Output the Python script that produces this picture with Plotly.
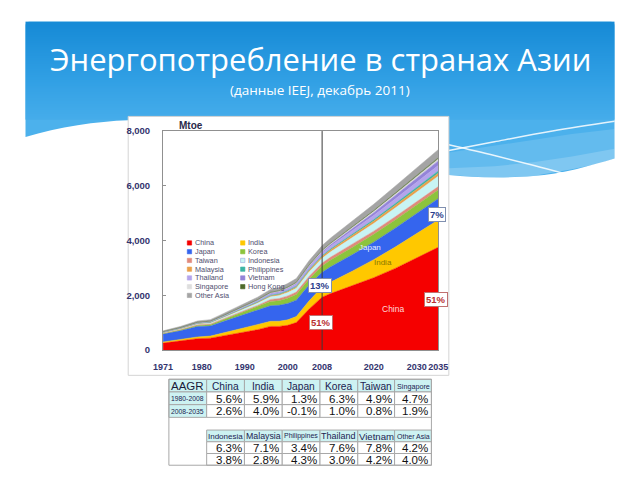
import plotly.graph_objects as go

# ---------------- data ----------------
years = [1971, 1975, 1979, 1982, 1985, 1990, 1993, 1996, 1998, 2000, 2002, 2005, 2008,
         2010, 2015, 2020, 2025, 2030, 2035]
china = [250, 320, 410, 430, 520, 650, 740, 860, 860, 900, 1000, 1500, 1930,
         2060, 2350, 2640, 2980, 3360, 3750]
india = [40, 50, 65, 75, 100, 150, 165, 185, 190, 200, 220, 300, 370,
         420, 530, 660, 780, 890, 1000]
japan = [290, 330, 380, 370, 420, 500, 540, 570, 580, 600, 600, 580, 540,
         560, 600, 640, 690, 740, 780]
korea = [20, 30, 42, 48, 60, 95, 125, 160, 170, 190, 205, 215, 230,
         245, 265, 285, 300, 310, 320]
taiwan = [12, 18, 26, 28, 35, 48, 58, 70, 78, 85, 90, 100, 105,
          108, 112, 115, 117, 119, 120]
indonesia = [20, 25, 33, 40, 50, 70, 85, 100, 110, 125, 140, 160, 175,
             195, 240, 280, 320, 350, 380]
malaysia = [5, 7, 9, 12, 15, 20, 26, 33, 38, 45, 50, 60, 70,
            75, 85, 92, 100, 105, 110]
philippines = [10, 12, 14, 14, 14, 16, 19, 24, 26, 27, 27, 28, 30,
               32, 42, 52, 62, 72, 80]
thailand = [8, 10, 12, 15, 18, 30, 40, 55, 58, 65, 72, 88, 100,
            108, 130, 150, 170, 185, 200]
vietnam = [5, 6, 6, 6, 7, 9, 11, 15, 18, 20, 24, 32, 42,
           50, 75, 100, 125, 150, 170]
singapore = [3, 4, 6, 7, 9, 13, 17, 21, 23, 25, 26, 30, 33,
             36, 45, 52, 58, 64, 70]
hongkong = [4, 5, 6, 7, 9, 11, 12, 14, 15, 16, 17, 18, 19,
            20, 24, 28, 32, 36, 40]
other_asia = [30, 40, 48, 55, 70, 80, 90, 105, 115, 130, 140, 160, 170,
              185, 210, 230, 250, 275, 300]

series_names = ["China", "India", "Japan", "Korea", "Taiwan", "Indonesia", "Malaysia",
                "Philippines", "Thailand", "Vietnam", "Singapore", "Hong Kong", "Other Asia"]
series_values = [china, india, japan, korea, taiwan, indonesia, malaysia,
                 philippines, thailand, vietnam, singapore, hongkong, other_asia]
series_colors = ["#f50000", "#ffc800", "#3565ee", "#8cc43c", "#e08a7c", "#c8f4f4", "#eaa04a",
                 "#3cb4a4", "#b4a4ec", "#9484d8", "#dedede", "#4e6a2a", "#a4a4a4"]

legend_col1 = ["China", "Japan", "Taiwan", "Malaysia", "Thailand", "Singapore", "Other Asia"]
legend_col2 = ["India", "Korea", "Indonesia", "Philippines", "Vietnam", "Hong Kong"]

x_ticks = [1971, 1980, 1990, 2000, 2008, 2020, 2030, 2035]
y_ticks = [0, 2000, 4000, 6000, 8000]
y_ticktext = ["0", "2,000", "4,000", "6,000", "8,000"]

tbl_corner = "AAGR"
tbl_periods = ["1980-2008", "2008-2035"]
tbl_top_cols = ["China", "India", "Japan", "Korea", "Taiwan", "Singapore"]
tbl_top_r1 = ["5.6%", "5.9%", "1.3%", "6.3%", "4.9%", "4.7%"]
tbl_top_r2 = ["2.6%", "4.0%", "-0.1%", "1.0%", "0.8%", "1.9%"]
tbl_bot_cols = ["Indonesia", "Malaysia", "Philippines", "Thailand", "Vietnam", "Other Asia"]
tbl_bot_r1 = ["6.3%", "7.1%", "3.4%", "7.6%", "7.8%", "4.2%"]
tbl_bot_r2 = ["3.8%", "2.8%", "4.3%", "3.0%", "4.2%", "4.0%"]

title_text = "Энергопотребление в странах Азии"
subtitle_text = "(данные IEEJ, декабрь 2011)"

# ---------------- figure ----------------
fig = go.Figure()

# background subplot (pixel coordinates)
# vertical gradient for the upper part of the header band
grad_edges = list(range(16, 120, 4))
grad_centers = [(a + b) / 2 for a, b in zip(grad_edges[:-1], grad_edges[1:])]
fig.add_trace(go.Heatmap(
    x=[16, 624], y=grad_edges, z=[[c] for c in grad_centers],
    zmin=16, zmax=120, zsmooth="best", showscale=False, hoverinfo="skip",
    colorscale=[[0, "#168ad6"], [0.55, "#309fe4"], [1, "#48aeeb"]],
    xaxis="x", yaxis="y"))
# lighter wave bands on the right
fig.add_trace(go.Scatter(
    x=[453, 500, 540, 580, 624, 624, 610, 580, 540, 500, 453],
    y=[150, 143, 137, 131, 126, 156, 161, 167, 174, 176, 173],
    fill="toself", mode="lines", line=dict(width=0),
    fillcolor="rgba(255,255,255,0.13)", hoverinfo="skip", xaxis="x", yaxis="y"))
fig.add_trace(go.Scatter(
    x=[453, 500, 540, 580, 624, 624, 610, 580, 540, 500, 453],
    y=[166, 164, 160, 154, 146, 156, 161, 167, 174, 176, 173],
    fill="toself", mode="lines", line=dict(width=0),
    fillcolor="rgba(255,255,255,0.18)", hoverinfo="skip", xaxis="x", yaxis="y"))
fig.add_trace(go.Scatter(
    x=[453, 500, 560, 624], y=[148, 139, 128, 118], mode="lines",
    line=dict(color="rgba(255,255,255,0.85)", width=1.5, shape="spline"),
    hoverinfo="skip", xaxis="x", yaxis="y"))
fig.add_trace(go.Scatter(
    x=[453, 500, 540, 574], y=[142, 153, 163, 172], mode="lines",
    line=dict(color="rgba(255,255,255,0.85)", width=1.5, shape="spline"),
    hoverinfo="skip", xaxis="x", yaxis="y"))
# white chart panel
fig.add_trace(go.Scatter(
    x=[122, 453, 453, 122, 122], y=[113, 113, 378, 378, 113], fill="toself",
    mode="lines", line=dict(color="#d4d4d4", width=1), fillcolor="white",
    hoverinfo="skip", xaxis="x", yaxis="y"))

# stacked areas
for name, vals, col in zip(series_names, series_values, series_colors):
    fig.add_trace(go.Scatter(
        x=years, y=vals, name=name, stackgroup="one", mode="lines",
        line=dict(width=0.5, color=col), fillcolor=col,
        xaxis="x2", yaxis="y2"))

# ---------------- layout ----------------
def px(x):
    return x / 640.0

def py(y):
    return 1 - y / 480.0

navy = "#34346e"
fig.update_layout(
    width=640, height=480, margin=dict(l=0, r=0, t=0, b=0),
    paper_bgcolor="white", plot_bgcolor="rgba(0,0,0,0)", showlegend=False,
    xaxis=dict(domain=[0, 1], range=[0, 640], visible=False, fixedrange=True),
    yaxis=dict(domain=[0, 1], range=[480, 0], visible=False, fixedrange=True),
    xaxis2=dict(domain=[px(158), px(442)], range=[1971, 2035], anchor="y2",
                tickmode="array", tickvals=x_ticks, ticktext=[str(t) for t in x_ticks],
                tickangle=0, showgrid=False, zeroline=False, ticks="",
                showline=True, linecolor="#909090", linewidth=1, mirror=True,
                ticklabelstandoff=8,
                tickfont=dict(family="Arial, Liberation Sans", size=9, color=navy,
                              weight="bold")),
    yaxis2=dict(domain=[py(352), py(128)], range=[0, 8000], anchor="x2",
                tickmode="array", tickvals=y_ticks, ticktext=y_ticktext,
                showgrid=False, zeroline=False, ticks="inside", ticklen=3,
                tickcolor="#909090", showline=True, linecolor="#909090", linewidth=1,
                mirror=True, ticklabelstandoff=10,
                tickfont=dict(family="Arial, Liberation Sans", size=9.5, color=navy,
                              weight="bold")),
)

shapes = []
annotations = []

# header base (below the gradient heatmap), rounded top corners, wavy bottom
hdr_path = ("M 16 134 L 16 20 Q 16 16 20 16 L 620 16 Q 624 16 624 20 L 624 156 "
            "C 600 163 570 172 540 174 C 515 176 480 176 453 173 L 300 150 L 122 117 "
            "C 90 118 50 124 16 134 Z")
shapes.append(dict(type="path", xref="x", yref="y", path=hdr_path,
                   fillcolor="#4cb1ec", line=dict(width=0), layer="below"))

# 2008 divider
shapes.append(dict(type="line", xref="x2", yref="y2 domain", x0=2008, x1=2008, y0=0, y1=1,
                   line=dict(color="#3a3a3a", width=1), layer="above"))

# titles
annotations.append(dict(text=title_text, xref="paper", yref="paper", x=0.5, y=py(54),
                        xanchor="center", yanchor="middle", showarrow=False,
                        font=dict(family="Open Sans", size=31, color="white")))
annotations.append(dict(text=subtitle_text, xref="paper", yref="paper", x=0.5, y=py(86),
                        xanchor="center", yanchor="middle", showarrow=False,
                        font=dict(family="Open Sans", size=13.5, color="white")))
annotations.append(dict(text="<b>Mtoe</b>", xref="paper", yref="paper", x=px(172), y=py(122),
                        xanchor="left", yanchor="middle", showarrow=False,
                        font=dict(family="Arial, Liberation Sans", size=10, color="#2a2a4a")))

# legend (two columns)
color_of = dict(zip(series_names, series_colors))
for col_items, sx in ((legend_col1, 183), (legend_col2, 238)):
    for i, nm in enumerate(col_items):
        yy = 242.5 + i * 8.95
        shapes.append(dict(type="rect", xref="paper", yref="paper",
                           x0=px(sx), x1=px(sx + 4.5), y0=py(yy + 2.2), y1=py(yy - 2.2),
                           fillcolor=color_of[nm],
                           line=dict(color="#9ad" if nm == "Indonesia" else color_of[nm], width=0.6),
                           layer="above"))
        annotations.append(dict(text=nm, xref="paper", yref="paper", x=px(sx + 5.5), y=py(yy),
                                xanchor="left", yanchor="middle", showarrow=False,
                                font=dict(family="Arial, Liberation Sans", size=7.3,
                                          color="#4e4e6e")))

# in-area labels
annotations.append(dict(text="Japan", xref="x2", yref="y2", x=2019.2, y=3750, showarrow=False,
                        font=dict(family="Arial, Liberation Sans", size=8, color="#e8eeff")))
annotations.append(dict(text="India", xref="x2", yref="y2", x=2022.2, y=3214, showarrow=False,
                        font=dict(family="Arial, Liberation Sans", size=8, color="#8a7800")))
annotations.append(dict(text="China", xref="x2", yref="y2", x=2024.4, y=1500, showarrow=False,
                        font=dict(family="Arial, Liberation Sans", size=8.5, color="#ffd8d8")))

# share boxes
def share_box(txt, x, y, col, bcol):
    annotations.append(dict(text="<b>%s</b>" % txt, xref="x2", yref="y2", x=x, y=y,
                            showarrow=False, bgcolor="white", bordercolor=bcol,
                            borderwidth=1, borderpad=1,
                            font=dict(family="Arial, Liberation Sans", size=9.5, color=col)))

share_box("13%", 2007.6, 2357, "#2c3e8c", "#8090b0")
share_box("51%", 2007.7, 1018, "#b83030", "#c07070")
share_box("7%", 2034.8, 4946, "#2c3e8c", "#8090b0")
share_box("51%", 2034.4, 1839, "#b83030", "#c07070")

# ---------------- table ----------------
col_edges = [164, 203, 242, 281, 320, 359, 397, 435]
cyan = "#cdf2f2"
grid = "#a8a8a8"
tfont = "Arial, Liberation Sans"
top_hdr_sizes = [10.2, 10.2, 10.2, 10.2, 10.2, 7.2]
bot_hdr_sizes = [8.0, 8.8, 7.0, 9.0, 9.6, 7.0]

def cell(x0, x1, y0, y1, fill):
    shapes.append(dict(type="rect", xref="x", yref="y", x0=x0, x1=x1, y0=y0, y1=y1,
                       fillcolor=fill, line=dict(color=grid, width=1), layer="above"))

def text(t, x, y, size, color, anchor="center"):
    annotations.append(dict(text=t, xref="x", yref="y", x=x, y=y, xanchor=anchor,
                            yanchor="middle", showarrow=False, borderpad=0,
                            font=dict(family=tfont, size=size, color=color)))

# top block rows
top_rows = [382, 395, 408, 421]
cell(col_edges[0], col_edges[1], top_rows[0], top_rows[1], cyan)
text(tbl_corner, col_edges[0] + 1, (top_rows[0] + top_rows[1]) / 2 + 0.5, 11.5, "#1a1a3a", "left")
for j, nm in enumerate(tbl_top_cols):
    x0, x1 = col_edges[j + 1], col_edges[j + 2]
    cell(x0, x1, top_rows[0], top_rows[1], cyan)
    text(nm, (x0 + x1) / 2, (top_rows[0] + top_rows[1]) / 2 + 0.5, top_hdr_sizes[j], "#1c1c50")
for r, (lab, vals) in enumerate(zip(tbl_periods, [tbl_top_r1, tbl_top_r2])):
    y0, y1 = top_rows[r + 1], top_rows[r + 2]
    cell(col_edges[0], col_edges[1], y0, y1, cyan)
    text(lab, (col_edges[0] + col_edges[1]) / 2, (y0 + y1) / 2, 6.8, "#1c1c50")
    for j, v in enumerate(vals):
        x0, x1 = col_edges[j + 1], col_edges[j + 2]
        cell(x0, x1, y0, y1, "white")
        text(v, x1 - 2, (y0 + y1) / 2 + 0.5, 11.5, "#111111", "right")

# bottom block
bot_rows = [434, 446, 458, 470]
for j, nm in enumerate(tbl_bot_cols):
    x0, x1 = col_edges[j + 1], col_edges[j + 2]
    cell(x0, x1, bot_rows[0], bot_rows[1], cyan)
    text(nm, (x0 + x1) / 2, (bot_rows[0] + bot_rows[1]) / 2 + 0.5, bot_hdr_sizes[j], "#1c1c50")
for r, vals in enumerate([tbl_bot_r1, tbl_bot_r2]):
    y0, y1 = bot_rows[r + 1], bot_rows[r + 2]
    for j, v in enumerate(vals):
        x0, x1 = col_edges[j + 1], col_edges[j + 2]
        cell(x0, x1, y0, y1, "white")
        text(v, x1 - 2, (y0 + y1) / 2 + 0.5, 11.5, "#111111", "right")

# outer border
shapes.append(dict(type="rect", xref="x", yref="y", x0=col_edges[0], x1=col_edges[-1],
                   y0=top_rows[0], y1=bot_rows[-1], line=dict(color=grid, width=1),
                   fillcolor="rgba(0,0,0,0)", layer="above"))

fig.update_layout(shapes=shapes, annotations=annotations)
fig.write_html("out.html")
